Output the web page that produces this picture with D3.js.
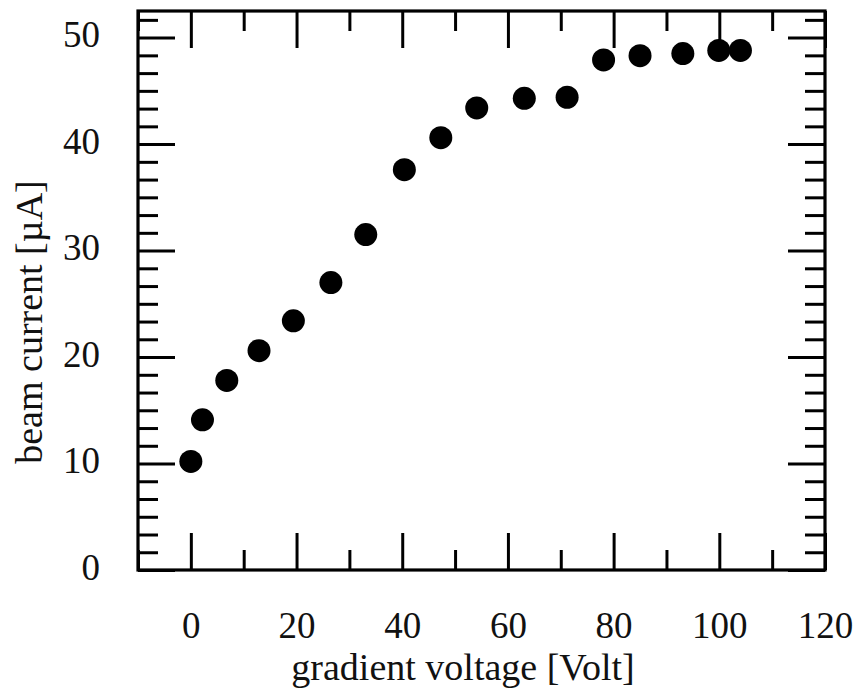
<!DOCTYPE html>
<html>
<head>
<meta charset="utf-8">
<script src="https://d3js.org/d3.v7.min.js"></script>
<style>
  body { margin: 0; background: #fff; }
  text { font-family: "Liberation Serif", "Times New Roman", serif; fill: #111; }
</style>
</head>
<body>
<svg id="grafica" width="856" height="692"></svg>
<script>
// measured points (gradient voltage [Volt], beam current [µA])
var voltage = [0, 2.2, 6.8, 12.9, 19.4, 26.5, 33.1, 40.4, 47.3, 54.1, 63.1, 71.2, 78.1, 85.0, 93.1, 99.9, 104.0];
var current = [10.2, 14.1, 17.8, 20.6, 23.4, 27.0, 31.5, 37.6, 40.6, 43.4, 44.3, 44.4, 47.9, 48.3, 48.5, 48.8, 48.8];

var xTicks = [0, 20, 40, 60, 80, 100, 120];
var xMinor = [-10, 10, 30, 50, 70, 90, 110];
var yTicks = [0, 10, 20, 30, 40, 50];
var yMinor = d3.range(1, 32).map(i => i * 10 / 6).filter(v => Math.abs(v / 10 - Math.round(v / 10)) > 0.01 && v < 52.5);

var data = voltage.map((v, i) => ({x: v, y: current[i]}));

var svg = d3.select("#grafica"),
    margin = {top: 11, right: 31, bottom: 122, left: 138},
    width = +svg.attr("width"),
    height = +svg.attr("height");

var x = d3.scaleLinear().domain([-10, 120]).range([margin.left, width - margin.right]);
var y = d3.scaleLinear().domain([0, 52.5]).range([height - margin.bottom, margin.top]);

var big = 37, small = 20, fs = 37, titleFs = 38;

function styleAxis(g) {
  g.select(".domain").remove();
  g.selectAll(".tick line").attr("stroke", "#000").attr("stroke-width", 3);
  g.selectAll("text").style("font-size", fs + "px").attr("fill", "#111");
}

// bottom
svg.append("g")
  .attr("transform", `translate(0,${y(0)})`)
  .call(d3.axisBottom(x).tickValues(xTicks).tickSize(-big).tickFormat(d3.format("d")))
  .call(styleAxis)
  .call(g => g.selectAll("text").attr("y", 68).attr("dy", 0));
svg.append("g")
  .attr("transform", `translate(0,${y(0)})`)
  .call(d3.axisBottom(x).tickValues(xMinor).tickSize(-small).tickFormat(""))
  .call(styleAxis);
// top
svg.append("g")
  .attr("transform", `translate(0,${y(52.5)})`)
  .call(d3.axisTop(x).tickValues(xTicks).tickSize(-big).tickFormat(""))
  .call(styleAxis);
svg.append("g")
  .attr("transform", `translate(0,${y(52.5)})`)
  .call(d3.axisTop(x).tickValues(xMinor).tickSize(-small).tickFormat(""))
  .call(styleAxis);
// left
svg.append("g")
  .attr("transform", `translate(${x(-10)},0)`)
  .call(d3.axisLeft(y).tickValues(yTicks).tickSize(-big).tickPadding(38))
  .call(styleAxis)
  .call(g => g.selectAll("text").attr("dy", "0.25em"));
svg.append("g")
  .attr("transform", `translate(${x(-10)},0)`)
  .call(d3.axisLeft(y).tickValues(yMinor).tickSize(-small).tickFormat(""))
  .call(styleAxis);
// right
svg.append("g")
  .attr("transform", `translate(${x(120)},0)`)
  .call(d3.axisRight(y).tickValues(yTicks).tickSize(-big).tickFormat(""))
  .call(styleAxis);
svg.append("g")
  .attr("transform", `translate(${x(120)},0)`)
  .call(d3.axisRight(y).tickValues(yMinor).tickSize(-small).tickFormat(""))
  .call(styleAxis);

// frame
svg.append("rect")
  .attr("x", x(-10)).attr("y", y(52.5))
  .attr("width", x(120) - x(-10)).attr("height", y(0) - y(52.5))
  .attr("fill", "none").attr("stroke", "#000").attr("stroke-width", 3.2);

svg.selectAll(".dot")
  .data(data)
  .enter().append("circle")
    .attr("class", "dot")
    .attr("cx", d => x(d.x))
    .attr("cy", d => y(d.y))
    .attr("r", 11.5)
    .attr("fill", "#000");

svg.append("text")
  .attr("x", 463).attr("y", 680)
  .attr("text-anchor", "middle")
  .style("font-size", titleFs + "px")
  .text("gradient voltage [Volt]");

svg.append("text")
  .attr("transform", "translate(42,322) rotate(-90)")
  .attr("text-anchor", "middle")
  .style("font-size", titleFs + "px")
  .text("beam current [µA]");
</script>
</body>
</html>
